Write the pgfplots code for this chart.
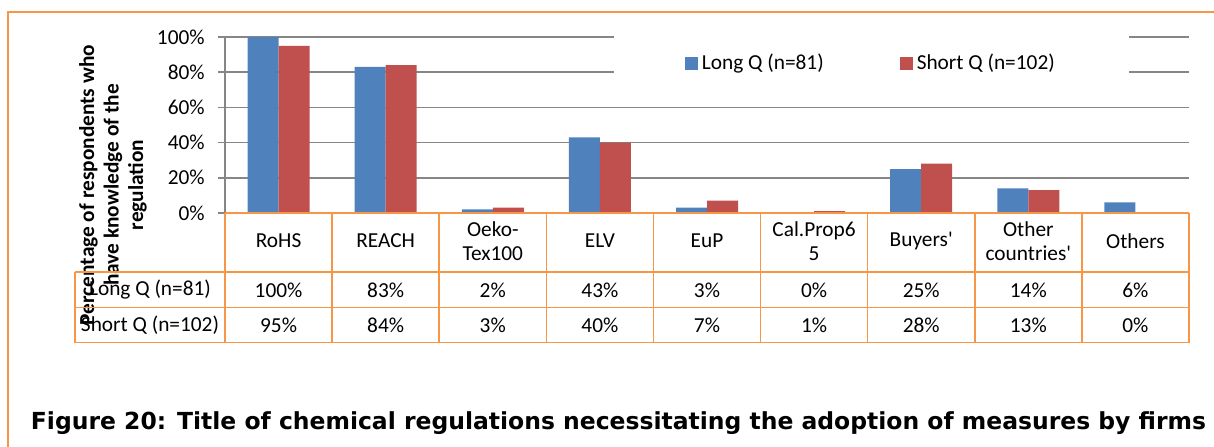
\documentclass[border=0pt]{standalone}
\usepackage{fontspec}
\setmainfont{Carlito}[Ligatures=TeXOff]
\newfontfamily\titlefont{DejaVu Sans}
\usepackage{pgfplots}
\pgfplotsset{compat=1.18}

\definecolor{qblue}{HTML}{4F81BD}
\definecolor{qred}{HTML}{C0504D}
\definecolor{qorange}{HTML}{F79646}
\definecolor{gridgray}{HTML}{868686}
\newcommand\tabfont{\fontsize{16bp}{18bp}\selectfont}

\pgfplotsset{
  sqlegend/.style={legend image code/.code={\fill[##1] (0bp,-4.875bp) rectangle (9.75bp,4.875bp);}},
  tabrow/.style={draw=none, forget plot, nodes near coords, point meta=explicit symbolic,
    every node near coord/.append style={anchor=center, font=\tabfont, text=black}},
}

\begin{document}
\begin{tikzpicture}[font=\tabfont]
\path[use as bounding box] (0,0) rectangle (910.5bp,-335.25bp);
\begin{axis}[
  at={(168.75bp,-159.75bp)}, anchor=south west,
  scale only axis, width=723bp, height=132bp,
  xmin=-0.5, xmax=8.5, ymin=0, ymax=100,
  clip=false,
  axis y line*=left, axis x line*=bottom,
  x axis line style={draw=none},
  y axis line style={draw=gridgray, line width=1.1bp},
  xtick={0,...,8},
  xticklabels={RoHS, REACH, {Oeko-\\Tex100}, ELV, EuP, {Cal.Prop6\\5}, {Buyers'}, {Other\\countries'}, Others},
  major x tick style={draw=none},
  xticklabel style={anchor=center, align=center, yshift=-15.6bp, font=\tabfont},
  ytick={0,20,...,100},
  yticklabels={0\%,20\%,40\%,60\%,80\%,100\%},
  yticklabel style={font=\tabfont, xshift=-6.5bp},
  ytick style={draw=gridgray, line width=1.1bp},
  tick align=outside, major tick length=5.25bp,
  ymajorgrids, grid style={draw=gridgray, line width=1.1bp},
  ylabel={Percentage of respondents who\\have knowledge of the\\regulation},
  ylabel style={at={(rel axis cs:-0.1162,0.159)}, anchor=center, align=center,
    font=\fontsize{16bp}{18.4bp}\selectfont\bfseries},
  legend columns=2,
  legend style={at={(rel axis cs:0.671,0.852)}, anchor=center, draw=none, fill=white,
    inner xsep=53bp, inner ysep=18bp, font=\tabfont,
    nodes={inner xsep=3bp},
    /tikz/every even column/.append style={column sep=54bp}},
]
\addplot[ybar, bar width=23.25bp, bar shift=-11.625bp, fill=qblue, draw=none, sqlegend]
  coordinates {(0,100) (1,83) (2,2) (3,43) (4,3) (5,0) (6,25) (7,14) (8,6)};
\addplot[ybar, bar width=23.25bp, bar shift=11.625bp, fill=qred, draw=none, sqlegend]
  coordinates {(0,95) (1,84) (2,3) (3,40) (4,7) (5,1) (6,28) (7,13) (8,0)};
\legend{Long Q (n=81), Short Q (n=102)}
% table rows
\addplot[tabrow] coordinates {
  (0,-43.75) [100\%] (1,-43.75) [83\%] (2,-43.75) [2\%] (3,-43.75) [43\%] (4,-43.75) [3\%]
  (5,-43.75) [0\%] (6,-43.75) [25\%] (7,-43.75) [14\%] (8,-43.75) [6\%]};
\addplot[tabrow] coordinates {
  (0,-63.64) [95\%] (1,-63.64) [84\%] (2,-63.64) [3\%] (3,-63.64) [40\%] (4,-63.64) [7\%]
  (5,-63.64) [1\%] (6,-63.64) [28\%] (7,-63.64) [13\%] (8,-63.64) [0\%]};
\end{axis}
\begin{scope}[x=0.75bp, y=-0.75bp]
  % outer frame
  \draw[qorange, line width=1.1bp] (8,448) -- (8,12) -- (1215,12);
  % table grid
  \begin{scope}[qorange, line width=1.1bp]
    \draw (225,213) -- (1189,213);
    \draw (75,272) -- (1189,272);
    \draw (75,307.5) -- (1189,307.5);
    \draw (75,342.5) -- (1189,342.5);
    \draw (75,272) -- (75,342.5);
    \foreach \k in {0,...,9} \draw ({225+107.111*\k},213) -- ({225+107.111*\k},342.5);
  \end{scope}
  \node[anchor=center] at (150,290) {Long Q (n=81)};
  \node[anchor=center] at (150,325) {Short Q (n=102)};
  \node[anchor=base, font=\titlefont\bfseries\fontsize{17.6bp}{20bp}\selectfont] at (618.5,429)
    {Figure 20: Title of chemical regulations necessitating the adoption of measures by firms};
\end{scope}
\end{tikzpicture}
\end{document}
